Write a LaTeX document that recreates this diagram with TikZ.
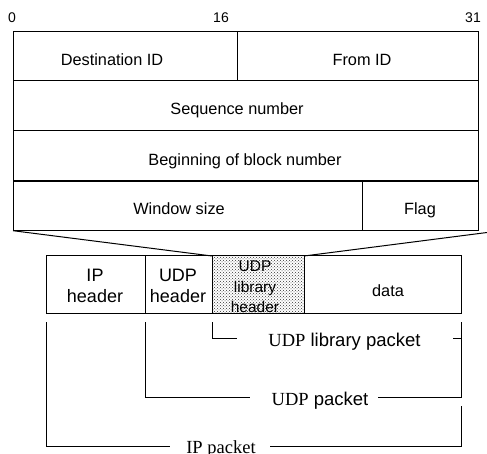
\documentclass[tikz,border=0pt]{standalone}
\usepackage{fontspec}
\setmainfont{Liberation Sans}
\newfontfamily\serifrm{Liberation Serif}
\usetikzlibrary{patterns}

\begin{document}
\begin{tikzpicture}[x=1pt, y=-1pt, line width=1pt,
  cell/.style={draw, inner sep=0pt, outer sep=0pt, anchor=north west},
  txt/.style={anchor=base, inner sep=0pt, font=\fontsize{16.3}{19}\selectfont},
  bittxt/.style={anchor=base, inner sep=0pt, font=\fontsize{14}{16}\selectfont},
  pkttxt/.style={anchor=base, inner sep=0pt, align=center, font=\fontsize{18}{21.7}\selectfont},
  brtxt/.style={anchor=base, inner sep=0pt, font=\fontsize{18.5}{21}\selectfont},
  bracket/.style={draw, line width=1pt}]
\useasboundingbox (0,0) rectangle (487,454);

% bit positions
\node[bittxt] (b0)  at (12,23) {0};
\node[bittxt] (b16) at (221,23) {16};
\node[bittxt] (b31) at (473,23) {31};

% header layout
\node[cell, minimum width=224, minimum height=49.2] (dest) at (13,31.3) {};
\node[cell, minimum width=241, minimum height=49.2] (from) at (237,31.3) {};
\node[cell, minimum width=465, minimum height=50.2] (seq)  at (13,80.5) {};
\node[cell, minimum width=465, minimum height=50]   (bob)  at (13,130.7) {};
\node[cell, minimum width=349, minimum height=50]   (win)  at (13,180.7) {};
\node[cell, minimum width=116, minimum height=50]   (flag) at (362,180.7) {};
\draw[line width=2pt] (win.north west) -- (flag.north east);

\node[txt] (tdest) at (112,65.7)  {Destination ID};
\node[txt] (tfrom) at (362,65.7)  {From ID};
\node[txt] (tseq)  at (237,115)   {Sequence number};
\node[txt] (tbob)  at (245,165.7) {Beginning of block number};
\node[txt] (twin)  at (179,214.3) {Window size};
\node[txt] (tflag) at (420,214.3) {Flag};

% packet layout
\node[cell, minimum width=99, minimum height=57.3] (ip)   at (46,256) {};
\node[cell, minimum width=67, minimum height=57.3] (udp)  at (145,256) {};
\node[cell, minimum width=92, minimum height=57.3, fill=white,
      postaction={pattern=crosshatch dots, pattern color=black!80}] (lib) at (212,256) {};
\node[cell, minimum width=157, minimum height=57.3] (data) at (304,256) {};

% multi-line labels: the base anchor sits on the last line
\node[pkttxt] (tip)  at (95,302.7)  {IP\\header};
\node[pkttxt] (tudp) at (178,302.7) {UDP\\header};
\node[anchor=base, inner sep=0pt, align=center,
      font=\fontsize{15.5}{20.4}\selectfont] (tlib) at (255,312.5) {UDP\\library\\header};
\node[txt] (tdata) at (388,296.7) {data};
\draw (lib.north west) rectangle (lib.south east);

% expansion lines
\coordinate (fr) at (487,232.5);
\draw (win.south west) -- (lib.north west);
\draw (lib.north east) -- (fr);

% brackets
\coordinate (l1) at (212,322);
\coordinate (l2) at (145,322);
\coordinate (l3) at (46,322);
\coordinate (r1) at (461,322);
\coordinate (r2) at (461,406);

\node[brtxt] (plib) at (344.5,346.7) {{\serifrm UDP} library packet};
\node[brtxt] (pudp) at (320,405)   {{\serifrm UDP} packet};
\node[brtxt] (pip)  at (221,453.5) {{\serifrm IP packet}};

\draw[bracket] (l1) -- (212,338) -- (237,338);
\draw[bracket] (453,338) -- (461,338);
\draw[bracket] (l2) -- (145,397) -- (250,397);
\draw[bracket] (378,397) -- (461,397) -- (r1);
\draw[bracket] (l3) -- (46,446) -- (170,446);
\draw[bracket] (270,446) -- (461,446) -- (r2);
\end{tikzpicture}
\end{document}
